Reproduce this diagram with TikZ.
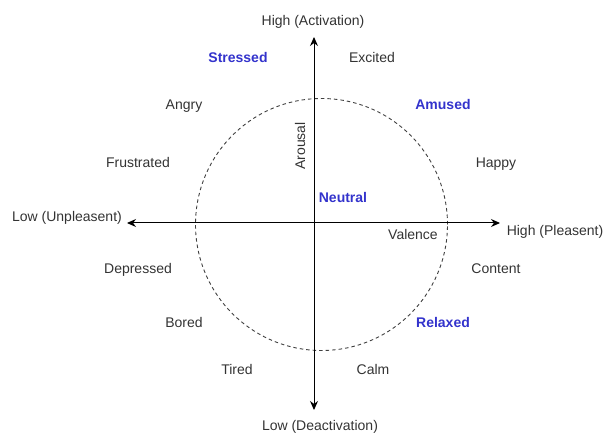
\documentclass[tikz,border=0pt]{standalone}
\usepackage{fontspec}
\setmainfont{Liberation Sans}
\usetikzlibrary{positioning,arrows.meta}
\definecolor{moodblue}{HTML}{3333CC}
\definecolor{textgray}{HTML}{333333}
\tikzstyle{lbl}=[inner sep=0pt, text height=10pt, text depth=0pt, text=textgray, font=\fontsize{14}{16}\selectfont]
\tikzstyle{mood}=[lbl, text=moodblue, font=\fontsize{14}{16}\selectfont\bfseries]
\tikzstyle{axis}=[line width=1pt, draw=black, {Stealth[length=9pt,width=8pt]}-{Stealth[length=9pt,width=8pt]}]

\begin{document}
\begin{tikzpicture}[x=1pt, y=1pt]
  \useasboundingbox (0,0) rectangle (603,434);

  \coordinate (top) at (314, 397);
  \coordinate (bot) at (314, 24);
  \coordinate (lft) at (127, 211);
  \coordinate (rgt) at (500, 211);

  \draw [dash pattern=on 3.5pt off 3pt, line width=0.9pt, draw=black!75] (321.5, 209.5) circle (126);

  \draw [axis] (bot) -- (top);
  \draw [axis] (lft) -- (rgt);

  \node [lbl] at (313, 413) (high) {High (Activation)};
  \node [lbl] at (320, 8) (low) {Low (Deactivation)};
  \node [lbl] at (67, 217) (unpl) {Low (Unpleasent)};
  \node [lbl] at (555, 203) (pleas) {High (Pleasent)};
  \node [lbl] at (413, 199) (valence) {Valence};
  \node [lbl, rotate=90] at (300, 288) (arousal) {Arousal};

  \node [mood] at (343, 236) (neutral) {Neutral};
  \node [mood] at (238, 376) (stressed) {Stressed};
  \node [mood] at (443, 329) (amused) {Amused};
  \node [mood] at (443, 111) (relaxed) {Relaxed};

  \node [lbl] at (372, 376) (excited) {Excited};
  \node [lbl] at (184, 329) (angry) {Angry};
  \node [lbl] at (138, 271) (frustr) {Frustrated};
  \node [lbl] at (496, 271) (happy) {Happy};
  \node [lbl] at (138, 165) (depr) {Depressed};
  \node [lbl] at (496, 165) (content) {Content};
  \node [lbl] at (184, 111) (bored) {Bored};
  \node [lbl] at (237, 64) (tired) {Tired};
  \node [lbl] at (373, 64) (calm) {Calm};
\end{tikzpicture}
\end{document}
